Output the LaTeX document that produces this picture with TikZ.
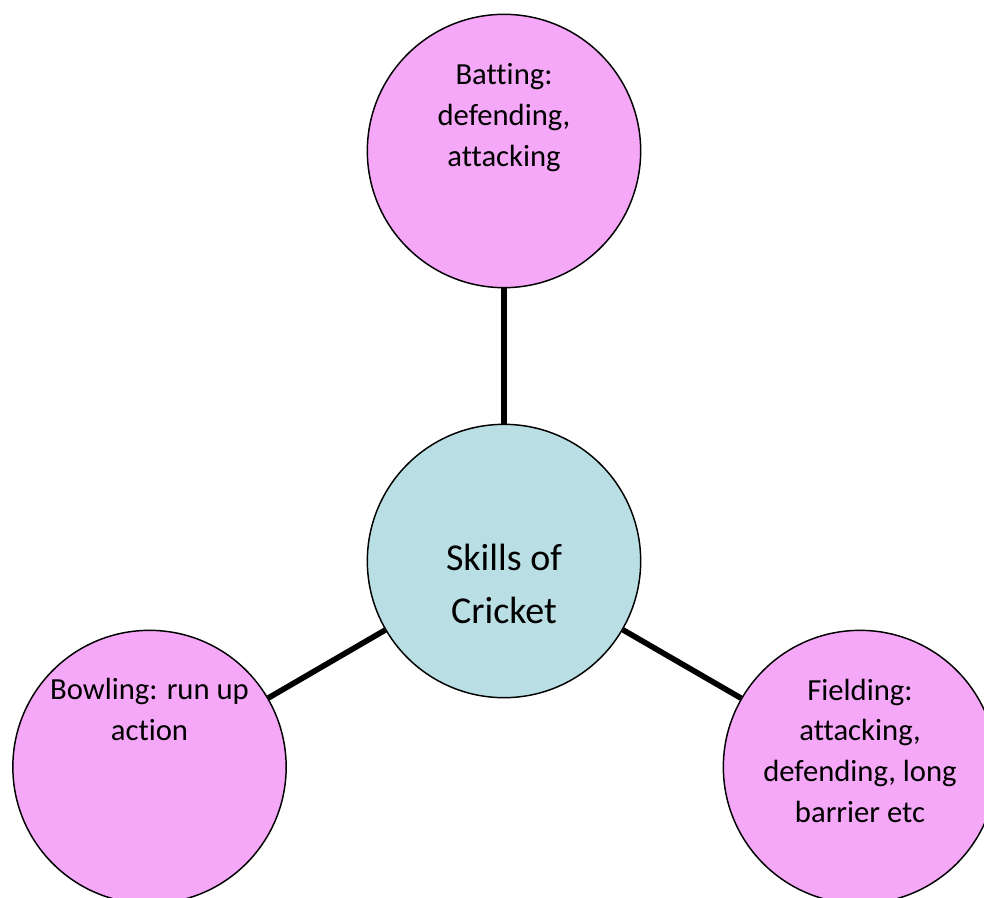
\documentclass[tikz,border=0pt]{standalone}
\usepackage{fontspec}
\setmainfont{Carlito}[Ligatures={NoCommon}]
\definecolor{pinkfill}{HTML}{F5A7F8}
\definecolor{tealfill}{HTML}{B9DFE4}
\tikzset{
  bubble/.style={circle, draw=black, line width=1.1pt, minimum size=205pt, inner sep=0pt},
  pinkbubble/.style={bubble, fill=pinkfill},
  tealbubble/.style={bubble, fill=tealfill},
  link/.style={line width=4.2pt, draw=black},
  smalltext/.style={align=center, anchor=base, inner sep=0pt, font=\fontsize{23pt}{30.5pt}\selectfont},
  bigtext/.style={align=center, anchor=base, inner sep=0pt, font=\fontsize{28.5pt}{39.75pt}\selectfont},
}
\begin{document}
\begin{tikzpicture}[x=0.75pt, y=-0.75pt]
\useasboundingbox (0,0) rectangle (984,897);
\begin{scope}
\clip (0,0) rectangle (984,897);
\node[pinkbubble] (bat) at (504,151) {};
\node[tealbubble] (core) at (504,561) {};
\node[pinkbubble] (bowl) at (149.5,767) {};
\node[pinkbubble] (field) at (860,767) {};
\draw[link] (core) -- (bat);
\draw[link] (core) -- (bowl);
\draw[link] (core) -- (field);
\node[smalltext] (battxt) at (504,166) {Batting:\\defending,\\attacking};
\node[bigtext] (coretxt) at (504,623) {Skills of\\Cricket};
\node[smalltext] (bowltxt) at (149.5,740) {Bowling: run up\\action};
\node[smalltext] (fieldtxt) at (860,822) {Fielding:\\attacking,\\defending, long\\barrier etc};
\end{scope}
\end{tikzpicture}
\end{document}
